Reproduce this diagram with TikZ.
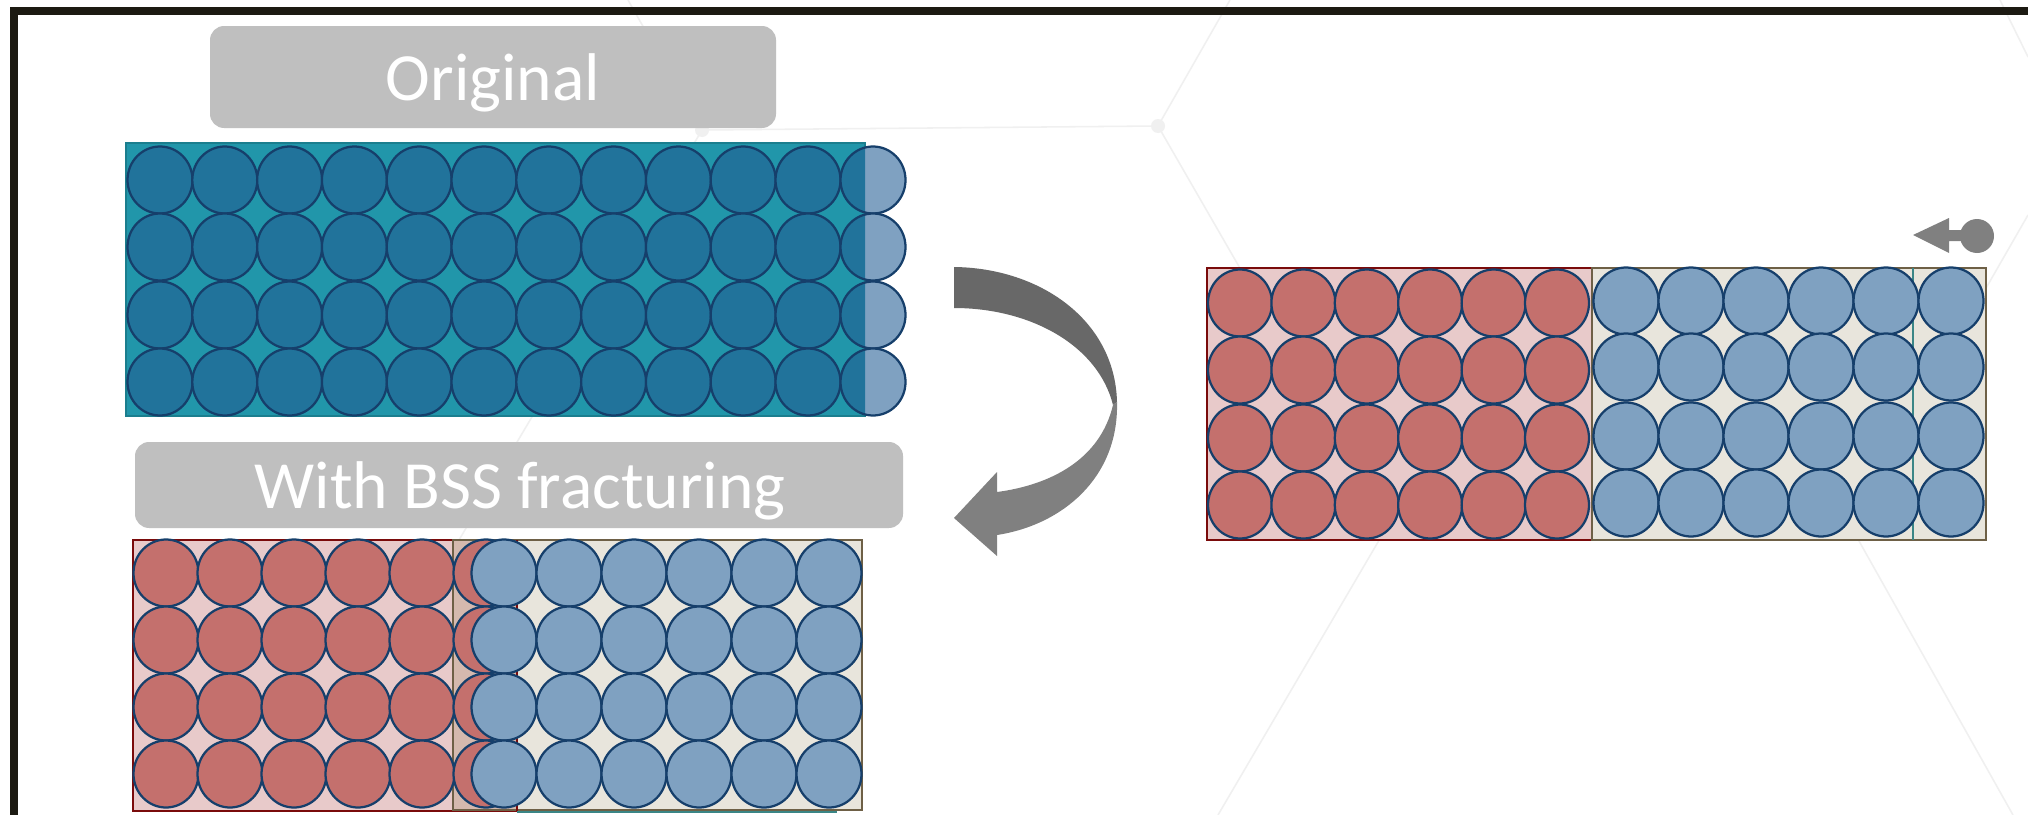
\documentclass[tikz,border=0pt]{standalone}
\usepackage{fontspec}
\setmainfont{Carlito}
\definecolor{framecol}{HTML}{1C1A12}
\definecolor{boxgray}{HTML}{BFBFBF}
\definecolor{tealfill}{HTML}{2196AA}
\definecolor{tealborder}{HTML}{1B7E8E}
\definecolor{darkblue}{HTML}{21739B}
\definecolor{lightblue}{HTML}{7FA1C1}
\definecolor{navy}{HTML}{163F6B}
\definecolor{redcirc}{HTML}{C4706D}
\definecolor{pinkfill}{HTML}{E8CACA}
\definecolor{redborder}{HTML}{7A0B0B}
\definecolor{beige}{HTML}{E8E5DC}
\definecolor{oliveborder}{HTML}{6E6046}
\definecolor{overlapcol}{HTML}{D5B9AE}
\definecolor{innerteal}{HTML}{3B8686}
\definecolor{arrowdark}{HTML}{686868}
\definecolor{arrowlight}{HTML}{808080}
\definecolor{bgline}{HTML}{F0F0F0}
\tikzset{
  circ/.style={draw=navy, line width=1.6pt},
  bgstroke/.style={draw=bgline, line width=1.1pt},
  titletext/.style={text=white, font=\fontsize{48}{52}\selectfont, inner sep=0pt, anchor=base},
  titlebox/.style={fill=boxgray, rounded corners=10pt},
}
\begin{document}
\begin{tikzpicture}[x=0.025cm,y=-0.025cm]
\useasboundingbox (0,0) rectangle (2028,815);
\fill[white] (0,0) rectangle (2028,815);
% faint background pattern
\draw[bgstroke] (628,0) -- (702,130) -- (1158,126) -- (1230,0);
\draw[bgstroke] (702,130) -- (459,540);
\draw[bgstroke] (1158,126) -- (1388,525) -- (1218,815);
\draw[bgstroke] (1388,525) -- (1850,525) -- (2013,815);
\draw[bgstroke] (1850,525) -- (2028,215);
\draw[bgstroke] (2000,0) -- (2028,57);
\fill[bgline] (702,130) circle [radius=7];
\fill[bgline] (1158,126) circle [radius=7];
% frame
\draw[framecol, line width=6pt, line join=miter] (14,815) -- (14,11) -- (2028,11);
% title boxes
\path[titlebox] (210,26) rectangle (776,128);
\node[titletext] (orig) at (493,100) {Original};
\path[titlebox] (135,442) rectangle (903,528);
\node[titletext] (bss) at (520,508) {With BSS fracturing};
% original panel
\draw[fill=tealfill, draw=tealborder, line width=1.4pt] (126,143) rectangle (865,416);
\foreach \y in {180,247,315,382}{
  \foreach \i in {0,...,10}{
    \filldraw[circ, fill=darkblue] ({160+64.8*\i},\y) ellipse [x radius=32.5, y radius=33.5];
  }
  \fill[lightblue] (873,\y) ellipse [x radius=32.5, y radius=33.5];
  \begin{scope}
    \clip (126,143) rectangle (865,416);
    \fill[darkblue] (873,\y) ellipse [x radius=32.5, y radius=33.5];
  \end{scope}
  \draw[circ] (873,\y) ellipse [x radius=32.5, y radius=33.5];
}
% bottom-left panel
\draw[fill=pinkfill, draw=redborder, line width=1.7pt] (133,540) rectangle (517,811);
\draw[fill=beige, draw=oliveborder, line width=1.7pt] (453,540) rectangle (862,810);
\fill[overlapcol] (454,541) rectangle (516,809);
\draw[redborder, line width=1.7pt] (517,540) -- (517,811);
\draw[innerteal, line width=1.2pt] (517,812) -- (837,812);
\foreach \y in {573,640,707,774}{
  \foreach \i in {0,...,5}{
    \filldraw[circ, fill=redcirc] ({166+64*\i},\y) ellipse [x radius=32.5, y radius=33.5];
  }
  \foreach \i in {0,...,5}{
    \filldraw[circ, fill=lightblue] ({504+65*\i},\y) ellipse [x radius=32.5, y radius=33.5];
  }
}
% right panel
\draw[fill=pinkfill, draw=redborder, line width=1.7pt] (1207,268) rectangle (1592,540);
\draw[fill=beige, draw=oliveborder, line width=1.7pt] (1592,268) rectangle (1986,540);
\draw[innerteal, line width=1.2pt] (1913,268) -- (1913,540);
\foreach \y in {303,370,438,505}{
  \foreach \i in {0,...,5}{
    \filldraw[circ, fill=redcirc] ({1240+63.4*\i},\y) ellipse [x radius=32, y radius=33.5];
  }
}
\foreach \y in {301,367,436,503}{
  \foreach \i in {0,...,5}{
    \filldraw[circ, fill=lightblue] ({1626+65*\i},\y) ellipse [x radius=32.5, y radius=33.5];
  }
}
% small arrow icon
\fill[arrowlight] (1913,235) -- (1949,218) -- (1949,230) -- (1965,230) -- (1965,241) -- (1949,241) -- (1949,253) -- cycle;
\fill[arrowlight] (1977,236) circle [radius=17];
% big curved arrow
\fill[arrowdark] (954,267) .. controls (1040,268) and (1115,320) .. (1117,402)
  -- (1113,405) .. controls (1098,345) and (1030,308) .. (954,308) -- cycle;
\fill[arrowlight] (1113,405) .. controls (1100,460) and (1050,485) .. (997,492)
  -- (997,472) -- (954,518) -- (997,556) -- (997,535)
  .. controls (1062,525) and (1119,478) .. (1117,402) -- cycle;
\end{tikzpicture}
\end{document}
